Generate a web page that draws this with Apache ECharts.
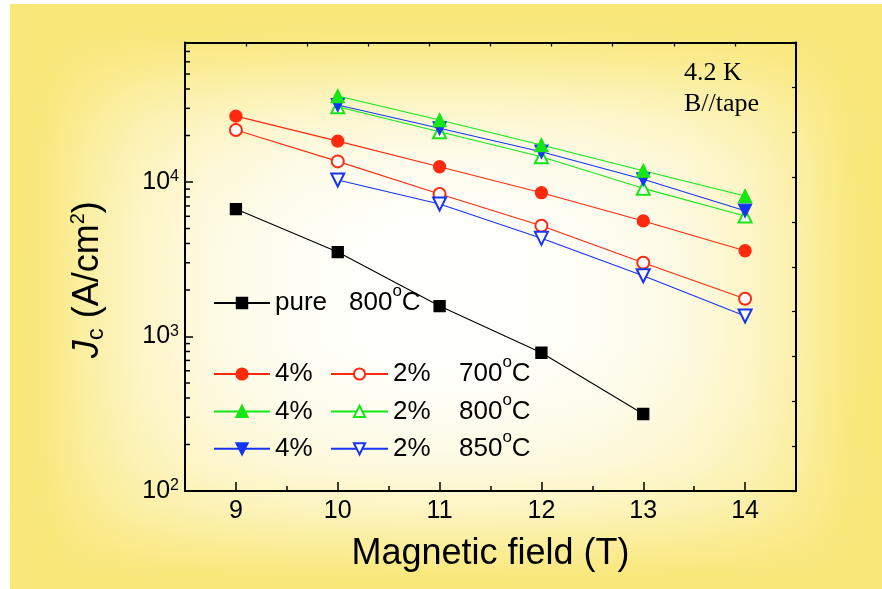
<!DOCTYPE html>
<html>
<head>
<meta charset="utf-8">
<script src="https://cdn.jsdelivr.net/npm/echarts@6/dist/echarts.min.js"></script>
<style>
  html, body { margin: 0; padding: 0; background: #ffffff; width: 882px; height: 589px; overflow: hidden; }
  #chart {
    position: absolute; left: 10px; top: 4px; width: 872px; height: 585px;
    background:
      linear-gradient(to right, rgba(249,231,119,1) 0%, rgba(249,231,119,0.92) 4%, rgba(249,231,119,0.65) 9%, rgba(249,231,119,0.4) 15%, rgba(249,231,119,0.2) 23%, rgba(249,231,119,0.06) 33%, rgba(249,231,119,0) 45%, rgba(249,231,119,0) 55%, rgba(249,231,119,0.06) 67%, rgba(249,231,119,0.2) 77%, rgba(249,231,119,0.4) 85%, rgba(249,231,119,0.65) 91%, rgba(249,231,119,0.92) 96%, rgba(249,231,119,1) 100%),
      linear-gradient(to bottom, rgba(249,231,119,1) 0%, rgba(249,231,119,0.95) 5%, rgba(249,231,119,0.75) 10%, rgba(249,231,119,0.5) 15%, rgba(249,231,119,0.3) 20%, rgba(249,231,119,0.12) 27%, rgba(249,231,119,0.03) 35%, rgba(249,231,119,0) 42%, rgba(249,231,119,0) 58%, rgba(249,231,119,0.06) 68%, rgba(249,231,119,0.2) 78%, rgba(249,231,119,0.42) 86%, rgba(249,231,119,0.7) 92%, rgba(249,231,119,0.93) 97%, rgba(249,231,119,1) 100%),
      #fffffd;
  }
</style>
</head>
<body>
<div id="chart"></div>
<script>
// ---- data ----
const fields = [9, 10, 11, 12, 13, 14];
const fieldLabels = ['9', '10', '11', '12', '13', '14'];
const pure800 = [6680, 3520, 1575, 785, 315, null];
const pct4_700 = [26700, 18400, 12560, 8530, 5600, 3590];
const pct2_700 = [21700, 13600, 8360, 5215, 3005, 1757];
const pct4_800 = [null, 36000, 25200, 17350, 11840, 8120];
const pct2_800 = [null, 30700, 21170, 14580, 9100, 6025];
const pct4_850 = [null, 31500, 22270, 15710, 10410, 6520];
const pct2_850 = [null, 10300, 7200, 4320, 2475, 1358];
const yMinorTicks = [200, 300, 400, 500, 600, 700, 800, 900,
                     2000, 3000, 4000, 5000, 6000, 7000, 8000, 9000,
                     20000, 30000, 40000, 50000, 60000, 70000];
const xRange = [8.5, 14.5];
const yRange = [100, 80000];

const RED = '#ff2a0e', GREEN = '#16e616', BLUE = '#1634f4', BLACK = '#000000';
const FONT = 'Liberation Sans, Arial, sans-serif';

function pts(values) {
  return fields.map((x, i) => values[i] == null ? null : [x, values[i]]).filter(p => p);
}
function mk(name, values, symbol, color, size, rotate) {
  return {
    name: name, type: 'line', xAxisIndex: 0, yAxisIndex: 0,
    data: pts(values), symbol: symbol, symbolSize: size, symbolRotate: rotate || 0,
    showAllSymbol: true,
    lineStyle: { color: color, width: 1.1 },
    itemStyle: { color: color, borderColor: color, borderWidth: 1.3 },
    emphasis: { disabled: true }
  };
}

const supStyle = { fontSize: 17, lineHeight: 9, verticalAlign: 'top', fontFamily: FONT, color: '#000' };
const legendText = { fontSize: 26, lineHeight: 40, fontFamily: FONT, color: '#000' };

const chart = echarts.init(document.getElementById('chart'), null, { renderer: 'canvas' });
chart.setOption({
  animation: false,
  backgroundColor: 'transparent',
  title: {
    text: '4.2 K\nB//tape', left: 674, top: 54, padding: 0,
    textStyle: { fontFamily: 'Liberation Serif, Times New Roman, serif', fontSize: 26, fontWeight: 'normal', lineHeight: 31, color: '#000' }
  },
  grid: { left: 175, right: 86, top: 38.5, bottom: 98, containLabel: false },
  xAxis: [
    { type: 'value', position: 'bottom', min: xRange[0], max: xRange[1], interval: 0.5,
      axisLine: { show: true, lineStyle: { color: '#000', width: 2 } },
      axisTick: { show: true, inside: true, length: 5, lineStyle: { color: '#000', width: 1.5 } },
      axisLabel: { show: false }, splitLine: { show: false } },
    { type: 'category', position: 'bottom', data: fieldLabels, boundaryGap: true,
      axisLine: { show: true, lineStyle: { color: '#000', width: 2 } },
      axisTick: { show: true, inside: true, length: 9, alignWithLabel: true, lineStyle: { color: '#000', width: 1.5 } },
      axisLabel: { show: true, margin: 8, fontSize: 25, fontFamily: FONT, color: '#000' },
      splitLine: { show: false },
      name: 'Magnetic field (T)', nameLocation: 'middle', nameGap: 45,
      nameTextStyle: { fontSize: 36, fontFamily: FONT, color: '#000' } },
    { type: 'value', position: 'top', min: 0, max: 10, interval: 1,
      axisLine: { show: true, lineStyle: { color: '#000', width: 2 } },
      axisTick: { show: true, inside: true, length: 4, lineStyle: { color: '#000', width: 1.2 } },
      axisLabel: { show: false }, splitLine: { show: false } }
  ],
  yAxis: [
    { type: 'log', logBase: 10, position: 'left', min: yRange[0], max: yRange[1],
      axisLine: { show: true, lineStyle: { color: '#000', width: 2 } },
      axisTick: { show: true, inside: true, length: 8, lineStyle: { color: '#000', width: 1.5 } },
      axisLabel: {
        show: true, margin: 6, showMaxLabel: false, fontSize: 25, fontFamily: FONT, color: '#000',
        formatter: function (v) {
          const e = Math.round(Math.log10(v));
          if (Math.abs(Math.pow(10, e) - v) > 1e-6 * v) return '';
          return '{b|10}{s|' + e + '}';
        },
        rich: { b: { fontSize: 25, lineHeight: 26, fontFamily: FONT, color: '#000' },
                s: { fontSize: 16, lineHeight: 8, verticalAlign: 'top', fontFamily: FONT, color: '#000' } }
      },
      splitLine: { show: false },
      name: '{j|J}{sub|c}{n| (A/cm}{sup|2}{n|)}', nameLocation: 'middle', nameGap: 77, nameRotate: 90,
      nameTextStyle: {
        fontSize: 36, lineHeight: 40, fontFamily: FONT, color: '#000', padding: [0, 26, 0, 0],
        rich: {
          j: { fontSize: 36, lineHeight: 40, fontStyle: 'italic', fontFamily: FONT, color: '#000' },
          n: { fontSize: 36, lineHeight: 40, fontFamily: FONT, color: '#000' },
          sub: { fontSize: 24, lineHeight: 25, verticalAlign: 'bottom', fontFamily: FONT, color: '#000' },
          sup: { fontSize: 20, lineHeight: 4, verticalAlign: 'top', fontFamily: FONT, color: '#000' }
        }
      } },
    { type: 'value', position: 'right', min: 0, max: 10, interval: 1,
      axisLine: { show: true, lineStyle: { color: '#000', width: 2 } },
      axisTick: { show: true, inside: true, length: 4, lineStyle: { color: '#000', width: 1.2 } },
      axisLabel: { show: false }, splitLine: { show: false } }
  ],
  legend: [
    { data: ['pure 800'], left: 203, top: 279, padding: 0, orient: 'vertical',
      itemWidth: 56, itemHeight: 13, selectedMode: false,
      formatter: function () { return '{w|pure}800{s|o}C'; },
      textStyle: Object.assign({}, legendText, { rich: { w: Object.assign({}, legendText, { width: 74 }), s: supStyle } }) },
    { data: ['4% 700', '4% 800', '4% 850'], left: 203, top: 350, padding: 0, orient: 'vertical',
      itemWidth: 56, itemHeight: 14, itemGap: -2.6, selectedMode: false,
      formatter: function () { return '4%'; },
      textStyle: legendText },
    { data: ['2% 700', '2% 800', '2% 850'], left: 320, top: 350, padding: 0, orient: 'vertical',
      itemWidth: 57, itemHeight: 14, itemGap: -2.6, selectedMode: false,
      formatter: function (name) { return '{p|2%}' + name.split(' ')[1] + '{s|o}C'; },
      textStyle: Object.assign({}, legendText, { rich: { p: Object.assign({}, legendText, { width: 66 }), s: supStyle } }) }
  ],
  series: [
    mk('pure 800', pure800, 'rect', BLACK, 11),
    mk('4% 700', pct4_700, 'circle', RED, 12),
    mk('2% 700', pct2_700, 'emptyCircle', RED, 12),
    mk('2% 850', pct2_850, 'emptyTriangle', BLUE, 13, 180),
    mk('2% 800', pct2_800, 'emptyTriangle', GREEN, 13),
    mk('4% 850', pct4_850, 'triangle', BLUE, 13, 180),
    mk('4% 800', pct4_800, 'triangle', GREEN, 13),
    {
      type: 'custom', name: 'minor-ticks', xAxisIndex: 0, yAxisIndex: 0, silent: true, clip: false, z: 5,
      data: yMinorTicks.map(v => [xRange[0], v]),
      renderItem: function (params, api) {
        const p = api.coord([api.value(0), api.value(1)]);
        return { type: 'line', shape: { x1: p[0], y1: p[1], x2: p[0] + 5, y2: p[1] },
                 style: { stroke: '#000', lineWidth: 1.5 } };
      }
    }
  ]
});
</script>
</body>
</html>
